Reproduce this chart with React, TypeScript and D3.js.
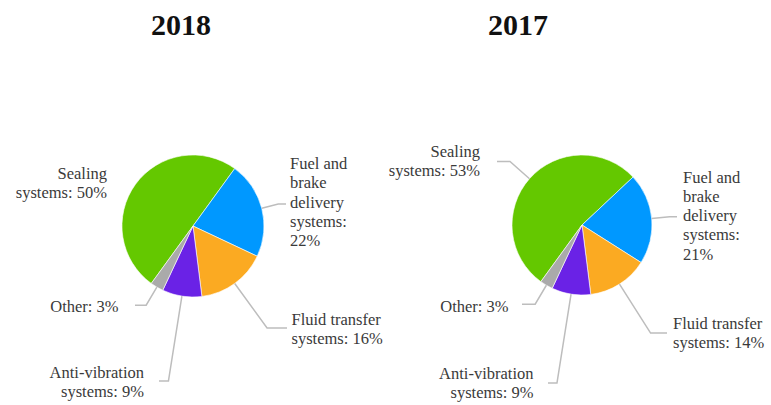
import React from "react";
import * as d3 from "d3";

// ---------- data ----------
const categories = [
  "Sealing systems",
  "Fuel and brake delivery systems",
  "Fluid transfer systems",
  "Anti-vibration systems",
  "Other",
];
const years = ["2018", "2017"];
const values2018 = [50, 22, 16, 9, 3];
const values2017 = [53, 21, 14, 9, 3];

// ---------- style / layout ----------
const W = 771;
const H = 405;
const FONT = "'Liberation Serif', 'Times New Roman', Times, serif";
const colors = ["#64c800", "#0098ff", "#fbaa22", "#6a22e6", "#aaaaaa"];
const LABEL_SIZE = 16.5;
const LINE_H = 19.3;
const START_DEG = 216;

type LabelLayout = {
  line: boolean;
  elbowR: number;
  endX: number;
  textX: number;
  textY: number;
  anchor: "start" | "end";
  wrap: number;
};

const pieLayouts: {
  cx: number;
  cy: number;
  r: number;
  titleX: number;
  labels: LabelLayout[];
}[] = [
  {
    cx: 193,
    cy: 226,
    r: 71,
    titleX: 181,
    labels: [
      { line: false, elbowR: 0, endX: 0, textX: 107, textY: 179, anchor: "end", wrap: 100 },
      { line: true, elbowR: 88, endX: 286, textX: 290, textY: 169, anchor: "start", wrap: 70 },
      { line: true, elbowR: 126, endX: 287, textX: 291.5, textY: 325, anchor: "start", wrap: 100 },
      { line: true, elbowR: 157, endX: 159, textX: 144, textY: 378, anchor: "end", wrap: 100 },
      { line: true, elbowR: 92, endX: 135, textX: 118.5, textY: 311.5, anchor: "end", wrap: 100 },
    ],
  },
  {
    cx: 582,
    cy: 225,
    r: 70,
    titleX: 518,
    labels: [
      { line: true, elbowR: 96, endX: 497, textX: 480, textY: 156.5, anchor: "end", wrap: 100 },
      { line: true, elbowR: 88, endX: 677, textX: 683, textY: 182.5, anchor: "start", wrap: 70 },
      { line: true, elbowR: 128, endX: 667, textX: 673, textY: 328.5, anchor: "start", wrap: 100 },
      { line: true, elbowR: 160, endX: 548, textX: 533.5, textY: 378.5, anchor: "end", wrap: 100 },
      { line: true, elbowR: 92, endX: 522, textX: 508.5, textY: 311.5, anchor: "end", wrap: 100 },
    ],
  },
];

const seriesList = [values2018, values2017];

let measureCtx: CanvasRenderingContext2D | null = null;
function measure(s: string): number {
  if (!measureCtx) {
    const c = document.createElement("canvas");
    measureCtx = c.getContext("2d");
  }
  if (!measureCtx) return s.length * LABEL_SIZE * 0.45;
  measureCtx.font = `${LABEL_SIZE}px ${FONT}`;
  return measureCtx.measureText(s).width;
}

function wrapText(text: string, width: number): string[] {
  const words = text.split(" ");
  const lines: string[] = [];
  let cur = "";
  for (const w of words) {
    const test = cur ? cur + " " + w : w;
    if (cur && measure(test) > width) {
      lines.push(cur);
      cur = w;
    } else {
      cur = test;
    }
  }
  if (cur) lines.push(cur);
  return lines;
}

function Pie({ idx }: { idx: number }) {
  const layout = pieLayouts[idx];
  const values = seriesList[idx];
  const start = (START_DEG * Math.PI) / 180;
  const pie = d3
    .pie<number>()
    .sort(null)
    .value((d) => d)
    .startAngle(start)
    .endAngle(start + 2 * Math.PI);
  const arcs = pie(values);
  const arc = d3.arc<d3.PieArcDatum<number>>().innerRadius(0).outerRadius(layout.r);
  const { cx, cy, r } = layout;

  return (
    <g>
      <text
        x={layout.titleX}
        y={35}
        textAnchor="middle"
        fontFamily={FONT}
        fontWeight="bold"
        fontSize={30}
        fill="#111"
      >
        {years[idx]}
      </text>
      <g transform={`translate(${cx},${cy})`}>
        {arcs.map((a, i) => (
          <path key={i} d={arc(a) || ""} fill={colors[i]} stroke="#ffffff" strokeWidth={0.6} />
        ))}
      </g>
      {arcs.map((a, i) => {
        const lab = layout.labels[i];
        const mid = (a.startAngle + a.endAngle) / 2;
        const sx = cx + r * Math.sin(mid);
        const sy = cy - r * Math.cos(mid);
        const ex = cx + lab.elbowR * Math.sin(mid);
        const ey = cy - lab.elbowR * Math.cos(mid);
        const lines = wrapText(`${categories[i]}: ${values[i]}%`, lab.wrap);
        return (
          <g key={"l" + i}>
            {lab.line && (
              <polyline
                points={`${sx},${sy} ${ex},${ey} ${lab.endX},${ey}`}
                fill="none"
                stroke="#bdbdbd"
                strokeWidth={1.5}
              />
            )}
            <text
              textAnchor={lab.anchor}
              fontFamily={FONT}
              fontSize={LABEL_SIZE}
              fill="#3a3a3a"
            >
              {lines.map((ln, k) => (
                <tspan key={k} x={lab.textX} y={lab.textY + k * LINE_H}>
                  {ln}
                </tspan>
              ))}
            </text>
          </g>
        );
      })}
    </g>
  );
}

export default function App() {
  return (
    <svg
      width={W}
      height={H}
      viewBox={`0 0 ${W} ${H}`}
      style={{ position: "absolute", left: 0, top: 0, background: "#ffffff" }}
    >
      <rect x={0} y={0} width={W} height={H} fill="#ffffff" />
      <Pie idx={0} />
      <Pie idx={1} />
    </svg>
  );
}
